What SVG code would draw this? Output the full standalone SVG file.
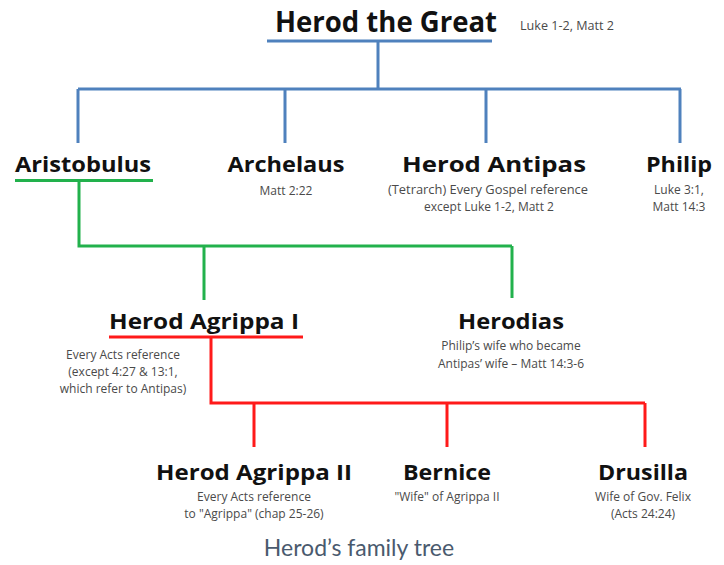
<svg xmlns="http://www.w3.org/2000/svg" width="724" height="565" viewBox="0 0 724 565">
<style>
.n{font-family:"Open Sans","Liberation Sans",sans-serif;font-weight:bold;fill:#111;text-anchor:middle}
.s{font-family:"Open Sans","Liberation Sans",sans-serif;font-size:12px;fill:#4a4a4a;text-anchor:middle}
.b{stroke:#4f81bd;stroke-width:3;fill:none}
.g{stroke:#22b14c;stroke-width:3;fill:none}
.r{stroke:#ff1a1a;stroke-width:3;fill:none}
</style>
<rect width="724" height="565" fill="#fff"/>
<g id="connectors">
<path class="b" d="M267 41H492M378 41V89M78 89H681M78 89V143M285 89V143M486 89V143M680 89V143"/>
<path class="g" d="M15 180.5H153M79 180.5V246H512M204 246V300M512 246V298"/>
<path class="r" d="M109 337H303M211 337V403H645M254 403V447M447 403V447M645 403V447"/>
</g>
<g id="herod-the-great">
<text class="n" x="386" y="32" font-size="28" textLength="222" lengthAdjust="spacingAndGlyphs">Herod the Great</text>
<text class="s" x="567" y="30" font-size="11" textLength="94" lengthAdjust="spacingAndGlyphs">Luke 1-2, Matt 2</text>
</g>
<g id="aristobulus">
<text class="n" x="83" y="172" font-size="22" textLength="136" lengthAdjust="spacingAndGlyphs">Aristobulus</text>
</g>
<g id="archelaus">
<text class="n" x="286" y="172" font-size="22" textLength="117" lengthAdjust="spacingAndGlyphs">Archelaus</text>
<text class="s" x="286" y="195">Matt 2:22</text>
</g>
<g id="herod-antipas">
<text class="n" x="494" y="172" font-size="22" textLength="184" lengthAdjust="spacingAndGlyphs">Herod Antipas</text>
<text class="s" x="488" y="194" textLength="200" lengthAdjust="spacingAndGlyphs">(Tetrarch)  Every Gospel reference</text>
<text class="s" x="489" y="211">except Luke 1-2, Matt 2</text>
</g>
<g id="philip">
<text class="n" x="679" y="172" font-size="22" textLength="66" lengthAdjust="spacingAndGlyphs">Philip</text>
<text class="s" x="679" y="194">Luke 3:1,</text>
<text class="s" x="679" y="211">Matt 14:3</text>
</g>
<g id="herod-agrippa-i">
<text class="n" x="204" y="329" font-size="22" textLength="190" lengthAdjust="spacingAndGlyphs">Herod Agrippa I</text>
<text class="s" x="123" y="359">Every Acts reference</text>
<text class="s" x="123" y="376">(except  4:27 &amp; 13:1,</text>
<text class="s" x="123" y="393">which refer to Antipas)</text>
</g>
<g id="herodias">
<text class="n" x="511" y="329" font-size="22" textLength="106" lengthAdjust="spacingAndGlyphs">Herodias</text>
<text class="s" x="511" y="350">Philip’s wife who became</text>
<text class="s" x="511" y="368">Antipas’ wife – Matt 14:3-6</text>
</g>
<g id="herod-agrippa-ii">
<text class="n" x="254" y="480" font-size="22" textLength="196" lengthAdjust="spacingAndGlyphs">Herod Agrippa II</text>
<text class="s" x="254" y="501">Every Acts reference</text>
<text class="s" x="254" y="518">to "Agrippa" (chap 25-26)</text>
</g>
<g id="bernice">
<text class="n" x="447" y="480" font-size="22" textLength="88" lengthAdjust="spacingAndGlyphs">Bernice</text>
<text class="s" x="447" y="501">"Wife" of Agrippa II</text>
</g>
<g id="drusilla">
<text class="n" x="643" y="480" font-size="22" textLength="90" lengthAdjust="spacingAndGlyphs">Drusilla</text>
<text class="s" x="643" y="501">Wife of Gov. Felix</text>
<text class="s" x="643" y="518">(Acts 24:24)</text>
</g>
<text x="359" y="556" font-family="Lato,'Open Sans',sans-serif" font-size="23" fill="#4a5a6e" text-anchor="middle">Herod’s family tree</text>
</svg>
